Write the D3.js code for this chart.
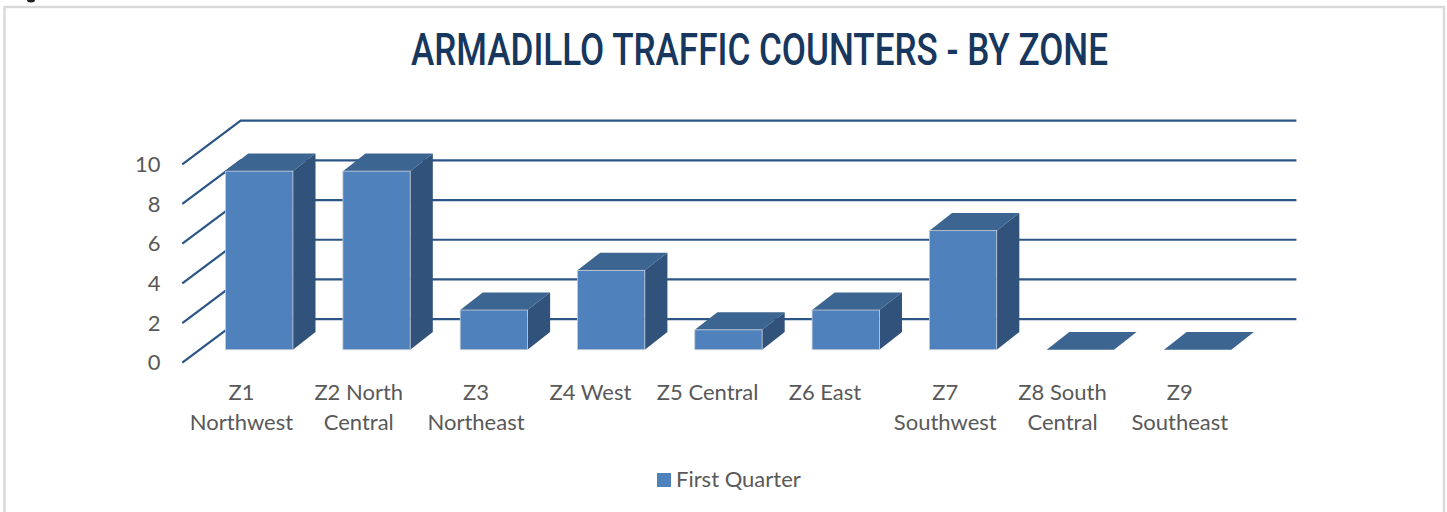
<!DOCTYPE html>
<html>
<head>
<meta charset="utf-8">
<script src="https://cdn.jsdelivr.net/npm/d3@7"></script>
<style>
html, body { margin: 0; padding: 0; background: #fff; overflow: hidden; }
svg { display: block; }
text { font-family: Lato, sans-serif; fill: #595959; }
</style>
</head>
<body>
<div id="graph"></div>
<script>
var title = 'ARMADILLO TRAFFIC COUNTERS - BY ZONE';
var seriesName = 'First Quarter';
var categories = ['Z1 Northwest', 'Z2 North Central', 'Z3 Northeast', 'Z4 West', 'Z5 Central',
                  'Z6 East', 'Z7 Southwest', 'Z8 South Central', 'Z9 Southeast'];
var categoryLines = [['Z1', 'Northwest'], ['Z2 North', 'Central'], ['Z3', 'Northeast'], ['Z4 West'], ['Z5 Central'],
                     ['Z6 East'], ['Z7', 'Southwest'], ['Z8 South', 'Central'], ['Z9', 'Southeast']];
var values = [9, 9, 2, 4, 1, 2, 6, 0, 0];
var yTicks = [0, 2, 4, 6, 8, 10];

var width = 1447, height = 512;
var gridColor = '#2b5587', frontColor = '#4f81bd', topColor = '#3d6591', sideColor = '#31527a';

// front edge of the floor, the 3d depth goes up and right from there
var x = d3.scaleBand().domain(categories).range([182.3, 1238]).paddingInner(0.426).paddingOuter(0.213);
var y = d3.scaleLinear().domain([0, 10]).range([362.7, 164.3]);

var depth = { x: 58.4, y: -43.6 };      // whole floor depth
var barOffset = { x: 18.3, y: -13 };    // where bars stand on the floor
var barDepth = { x: 22.6, y: -17.6 };   // depth of a bar

var svg = d3.select('#graph').append('svg')
    .attr('width', width)
    .attr('height', height);

// page frame, bottom runs off the picture
svg.append('rect')
    .attr('x', 4.5).attr('y', 7)
    .attr('width', 1439.5).attr('height', 520)
    .attr('fill', 'none')
    .attr('stroke', '#d9d9d9')
    .attr('stroke-width', 2.4);

// bit of the previous page line cut off at the top edge
svg.append('ellipse')
    .attr('cx', 31).attr('cy', 0)
    .attr('rx', 4).attr('ry', 2.5)
    .attr('fill', '#222');

svg.append('text')
    .attr('x', 759.5).attr('y', 65)
    .attr('text-anchor', 'middle')
    .attr('textLength', 697)
    .attr('lengthAdjust', 'spacingAndGlyphs')
    .style('font-family', 'Roboto, sans-serif')
    .style('font-size', '45px')
    .style('font-weight', 500)
    .style('fill', '#17375e')
    .text(title);

// side wall lines and back wall lines
var grid = svg.append('g')
    .attr('fill', 'none')
    .attr('stroke', gridColor)
    .attr('stroke-width', 2.2);

grid.selectAll('path')
    .data(yTicks)
    .join('path')
    .attr('d', function(d) {
        var p = d3.path();
        p.moveTo(182.3, y(d));
        p.lineTo(182.3 + depth.x, y(d) + depth.y);
        p.lineTo(1238 + depth.x, y(d) + depth.y);
        return p.toString();
    });

var bars = svg.append('g').selectAll('g')
    .data(categories)
    .join('g')
    .attr('transform', 'translate(' + barOffset.x + ',' + barOffset.y + ')');

var poly = function(pts) {
    return d3.line()(pts) + 'Z';
};

bars.append('path')
    .attr('fill', topColor)
    .attr('d', function(d, i) {
        var x0 = x(d), x1 = x0 + x.bandwidth(), t = y(values[i]);
        return poly([[x0, t], [x1, t], [x1 + barDepth.x, t + barDepth.y], [x0 + barDepth.x, t + barDepth.y]]);
    });

bars.filter(function(d, i) { return values[i] > 0; })
    .append('path')
    .attr('fill', sideColor)
    .attr('d', function(d) {
        var i = categories.indexOf(d);
        var x1 = x(d) + x.bandwidth(), t = y(values[i]), b = y(0);
        return poly([[x1, t], [x1 + barDepth.x, t + barDepth.y], [x1 + barDepth.x, b + barDepth.y], [x1, b]]);
    });

bars.filter(function(d, i) { return values[i] > 0; })
    .append('rect')
    .attr('fill', frontColor)
    .attr('stroke', '#c5ccd6')
    .attr('stroke-width', 0.8)
    .attr('x', function(d) { return x(d); })
    .attr('width', x.bandwidth())
    .attr('y', function(d) { return y(values[categories.indexOf(d)]); })
    .attr('height', function(d) { return y(0) - y(values[categories.indexOf(d)]); });

var yAxis = d3.axisLeft(y).tickValues(yTicks).tickSize(0).tickPadding(0);
var yG = svg.append('g')
    .attr('transform', 'translate(160.5,0)')
    .call(yAxis);
yG.select('.domain').remove();
yG.selectAll('text')
    .style('font-family', 'Lato, sans-serif')
    .style('font-size', '22px');

var labels = svg.append('g').selectAll('text')
    .data(categories)
    .join('text')
    .attr('text-anchor', 'middle')
    .style('font-size', '22px');

// single line labels sit a little left of the band centre in the original
labels.selectAll('tspan')
    .data(function(d, i) { return categoryLines[i]; })
    .join('tspan')
    .attr('x', function() {
        var cat = d3.select(this.parentNode).datum();
        var shift = categoryLines[categories.indexOf(cat)].length === 1 ? -2.5 : 0.5;
        return x(cat) + x.bandwidth() / 2 + shift;
    })
    .attr('y', function(d, i) { return 400 + i * 30; })
    .text(function(d) { return d; });

svg.append('rect')
    .attr('x', 657).attr('y', 473)
    .attr('width', 14).attr('height', 14)
    .attr('fill', frontColor);

svg.append('text')
    .attr('x', 676).attr('y', 487)
    .style('font-size', '22px')
    .text(seriesName);
</script>
</body>
</html>
